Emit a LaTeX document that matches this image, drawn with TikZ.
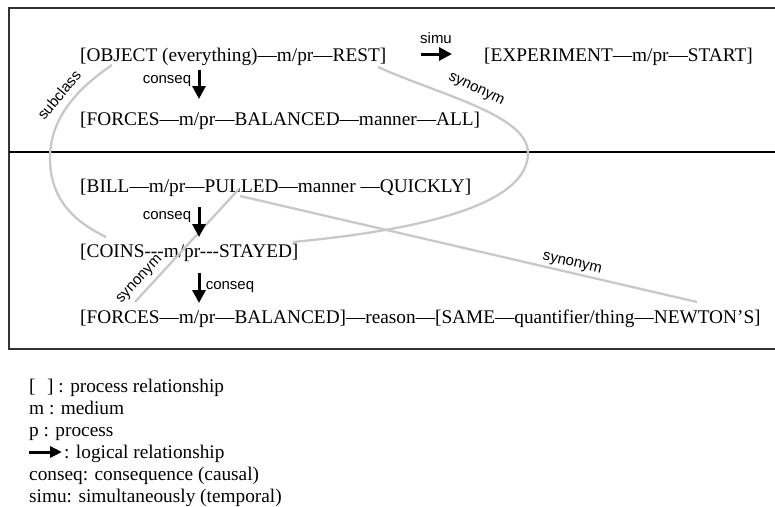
\documentclass[tikz,border=0pt]{standalone}
\usepackage{fontspec}
\setmainfont{Liberation Serif}
\setsansfont{Liberation Sans}
\usetikzlibrary{arrows.meta}
\definecolor{linkgray}{RGB}{200,200,200}
\begin{document}
\begin{tikzpicture}[x=1pt,y=-1pt,
  rel/.style={anchor=base west, inner sep=0pt, font=\fontsize{19.3}{23}\selectfont},
  lbl/.style={inner sep=0pt, font=\sffamily\fontsize{15}{18}\selectfont},
  legend/.style={anchor=base west, inner sep=0pt, font=\fontsize{19.3}{23}\selectfont},
  logic/.style={line width=3pt, -{Triangle[length=13pt,width=13pt]}},
  legendarrow/.style={line width=3pt, -{Triangle[length=12pt,width=11pt]}},
  link/.style={line width=2.3pt, draw=linkgray},
  frame/.style={draw=black!80, line width=1.2pt},
]
\useasboundingbox (0,0) rectangle (775,506);

% frame
\draw[frame] (775,8) -- (9,8) -- (9,349) -- (775,349);
\draw[line width=2pt] (9,152) -- (775,152);

% relations
\node[rel] (obj) at (80,61) {[OBJECT (everything)—m/pr—REST]};
\node[rel] (expm) at (484,61) {[EXPERIMENT—m/pr—START]};
\node[rel] (fa) at (80,125) {[FORCES—m/pr—BALANCED—manner—ALL]};
\node[rel] (bill) at (80,192) {[BILL—m/pr—PULLED—manner —QUICKLY]};
\node[rel] (coins) at (80,257) {[COINS-\kern0pt-\kern0pt-m/pr-\kern0pt-\kern0pt-STAYED]};
\node[rel] (fb) at (80,323) {[FORCES—m/pr—BALANCED]—reason—[SAME—quantifier/thing—NEWTON’S]};

% gray relationship links
\coordinate (s1a) at (112,65);
\coordinate (s1m) at (50,158);
\coordinate (s1b) at (106,237);
\draw[link] (s1a) .. controls (75,90) and (50,120) .. (s1m)
                  .. controls (50,200) and (75,222) .. (s1b);
\node[lbl, rotate=50] (subcl) at (59,95) {subclass};

\coordinate (s2a) at (378,67);
\coordinate (s2m) at (528,153);
\coordinate (s2b) at (293,242);
\draw[link] (s2a) .. controls (440,95) and (528,115) .. (s2m)
                  .. controls (528,200) and (440,228) .. (s2b);
\node[lbl, rotate=-26] (syn1) at (476,90) {synonym};

\coordinate (s3a) at (238,190);
\coordinate (s3b) at (135,302);
\draw[link] (s3a) -- (s3b);
\node[lbl, rotate=47] (syn2) at (140,280) {synonym};

\coordinate (s4a) at (240,196);
\coordinate (s4b) at (697,302);
\draw[link] (s4a) -- (s4b);
\node[lbl, rotate=-13] (syn3) at (572,264) {synonym};

% logical arrows
\coordinate (simuA) at (421,54);
\coordinate (simuB) at (452,54);
\draw[logic] (simuA) -- (simuB);
\node[lbl, anchor=base] (simu) at (436,43) {simu};

\coordinate (c1a) at (199,70);
\coordinate (c1b) at (199,99);
\draw[logic] (c1a) -- (c1b);
\node[lbl, anchor=base] (cq1) at (167,83) {conseq};

\coordinate (c2a) at (199,207);
\coordinate (c2b) at (199,237);
\draw[logic] (c2a) -- (c2b);
\node[lbl, anchor=base] (cq2) at (167,219) {conseq};

\coordinate (c3a) at (199,273);
\coordinate (c3b) at (199,303);
\draw[logic] (c3a) -- (c3b);
\node[lbl, anchor=base] (cq3) at (230,289) {conseq};

% legend
\node[legend] (l1) at (29,392) {[\hspace{0.6em}] : process relationship};
\node[legend] (l2) at (29,414) {m : medium};
\node[legend] (l3) at (29,436) {p : process};
\coordinate (la) at (29,452);
\coordinate (lb) at (62,452);
\draw[legendarrow] (la) -- (lb);
\node[legend] (l4) at (64,458) {: logical relationship};
\node[legend] (l5) at (29,480) {conseq: consequence (causal)};
\node[legend] (l6) at (29,502) {simu: simultaneously (temporal)};
\end{tikzpicture}
\end{document}
